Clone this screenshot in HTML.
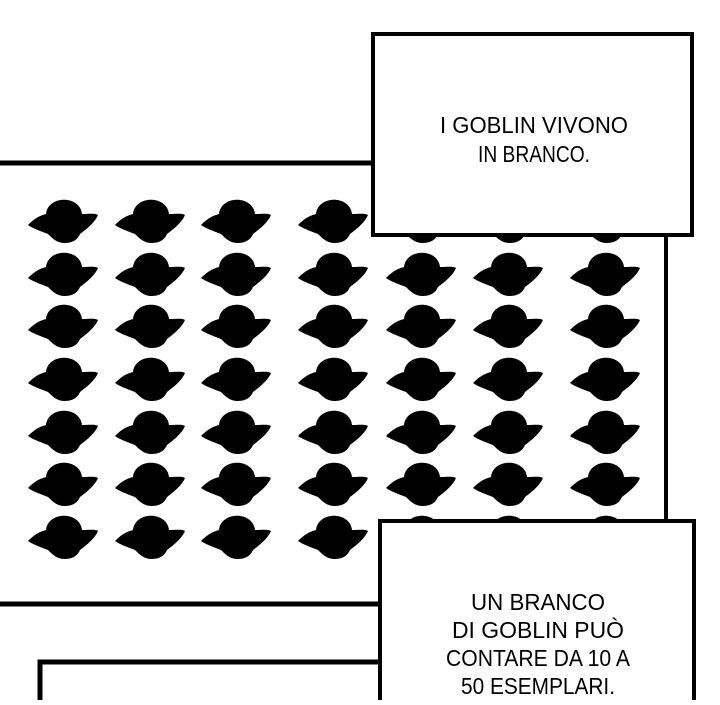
<!DOCTYPE html><html><head><style>body{margin:0;width:720px;height:700px;overflow:hidden;background:#fff}</style></head><body>
<svg width="720" height="700" viewBox="0 0 720 700" xmlns="http://www.w3.org/2000/svg">
<defs><path id="g" d="M-19,-8 C-17,-27 15,-27 17,-8 C24,-8 30,-9 33,-7 C30,0 23,6 15,12 C12,19 6,21 -1,21 C-8,21 -13,16 -17,12 C-25,9 -33,6 -37,3 C-32,-2 -27,-6 -19,-8 Z" fill="#000"/></defs>
<line x1="0" y1="163" x2="374" y2="163" stroke="#000" stroke-width="5"/>
<line x1="666" y1="234" x2="666" y2="522" stroke="#000" stroke-width="4"/>
<line x1="0" y1="604" x2="380" y2="604" stroke="#000" stroke-width="5"/>
<g>
<use href="#g" x="65" y="222"/><use href="#g" x="152" y="222"/><use href="#g" x="238" y="222"/><use href="#g" x="335" y="222"/><use href="#g" x="423" y="222"/><use href="#g" x="510" y="222"/><use href="#g" x="607" y="222"/>
<use href="#g" x="65" y="275"/><use href="#g" x="152" y="275"/><use href="#g" x="238" y="275"/><use href="#g" x="335" y="275"/><use href="#g" x="423" y="275"/><use href="#g" x="510" y="275"/><use href="#g" x="607" y="275"/>
<use href="#g" x="65" y="327"/><use href="#g" x="152" y="327"/><use href="#g" x="238" y="327"/><use href="#g" x="335" y="327"/><use href="#g" x="423" y="327"/><use href="#g" x="510" y="327"/><use href="#g" x="607" y="327"/>
<use href="#g" x="65" y="380"/><use href="#g" x="152" y="380"/><use href="#g" x="238" y="380"/><use href="#g" x="335" y="380"/><use href="#g" x="423" y="380"/><use href="#g" x="510" y="380"/><use href="#g" x="607" y="380"/>
<use href="#g" x="65" y="433"/><use href="#g" x="152" y="433"/><use href="#g" x="238" y="433"/><use href="#g" x="335" y="433"/><use href="#g" x="423" y="433"/><use href="#g" x="510" y="433"/><use href="#g" x="607" y="433"/>
<use href="#g" x="65" y="485"/><use href="#g" x="152" y="485"/><use href="#g" x="238" y="485"/><use href="#g" x="335" y="485"/><use href="#g" x="423" y="485"/><use href="#g" x="510" y="485"/><use href="#g" x="607" y="485"/>
<use href="#g" x="65" y="538"/><use href="#g" x="152" y="538"/><use href="#g" x="238" y="538"/><use href="#g" x="335" y="538"/><use href="#g" x="423" y="538"/><use href="#g" x="510" y="538"/><use href="#g" x="607" y="538"/>
</g>
<rect x="373" y="34" width="319" height="201" fill="#fff" stroke="#000" stroke-width="4"/>
<text x="534" y="133" font-family="Liberation Sans, sans-serif" font-size="23" text-anchor="middle" textLength="188" lengthAdjust="spacingAndGlyphs">I GOBLIN VIVONO</text>
<text x="534" y="162" font-family="Liberation Sans, sans-serif" font-size="23" text-anchor="middle" textLength="112" lengthAdjust="spacingAndGlyphs">IN BRANCO.</text>
<polyline points="40,704 40,662 380,662" fill="none" stroke="#000" stroke-width="5"/>
<rect x="380" y="521" width="314" height="200" fill="#fff" stroke="#000" stroke-width="4"/>
<text x="538" y="610" font-family="Liberation Sans, sans-serif" font-size="23" text-anchor="middle" textLength="134" lengthAdjust="spacingAndGlyphs">UN BRANCO</text>
<text x="538" y="638" font-family="Liberation Sans, sans-serif" font-size="23" text-anchor="middle" textLength="172" lengthAdjust="spacingAndGlyphs">DI GOBLIN PUÒ</text>
<text x="538" y="666" font-family="Liberation Sans, sans-serif" font-size="23" text-anchor="middle" textLength="184" lengthAdjust="spacingAndGlyphs">CONTARE DA 10 A</text>
<text x="538" y="694" font-family="Liberation Sans, sans-serif" font-size="23" text-anchor="middle" textLength="154" lengthAdjust="spacingAndGlyphs">50 ESEMPLARI.</text>
</svg>
</body></html>
